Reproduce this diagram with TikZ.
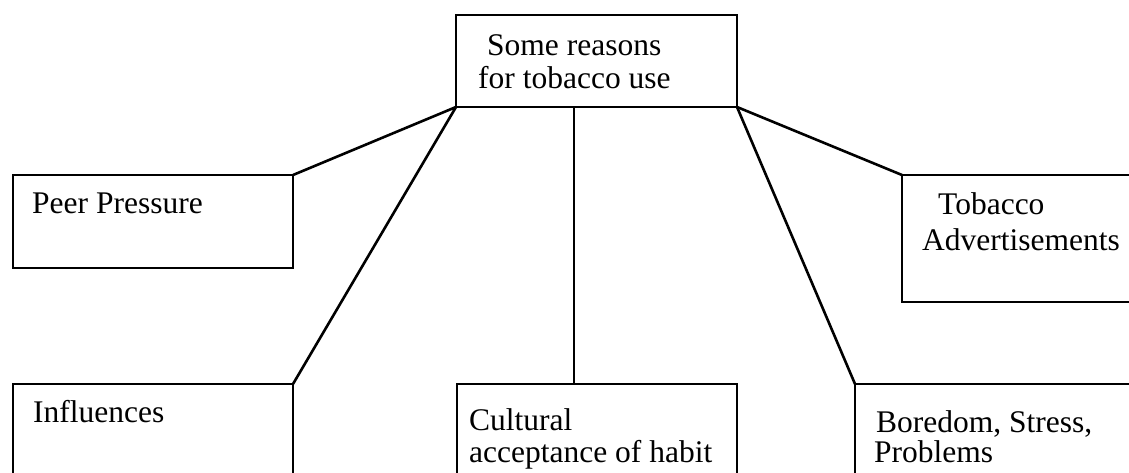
\documentclass[tikz,border=0pt]{standalone}
\usepackage{fontspec}
\setmainfont{Liberation Serif}
\begin{document}
\begin{tikzpicture}[x=1pt,y=-1pt,
  box/.style={draw,line width=2.4pt,rectangle,inner sep=0pt,outer sep=0pt},
  conn/.style={line width=2.6pt},
  lbl/.style={anchor=base west,inner sep=0pt,font=\fontsize{31.5}{34}\selectfont}]
\useasboundingbox (0,0) rectangle (1129,472);
\clip (0,0) rectangle (1129,472);
\node[box,minimum width=281pt,minimum height=92pt] (top) at (596.5,61) {};
\node[box,minimum width=280pt,minimum height=93pt] (peer) at (153,221.5) {};
\node[box,minimum width=240pt,minimum height=127pt] (tob) at (1022,238.5) {};
\node[box,minimum width=280pt,minimum height=106pt] (infl) at (153,437) {};
\node[box,minimum width=280pt,minimum height=106pt] (cult) at (597,437) {};
\node[box,minimum width=290pt,minimum height=106pt] (bore) at (1000,437) {};
\node[lbl] (t1) at (487,55) {Some reasons};
\node[lbl] (t2) at (478,88) {for tobacco use};
\node[lbl] (t3) at (32,213) {Peer Pressure};
\node[lbl] (t4) at (938,214) {Tobacco};
\node[lbl] (t5) at (922,250) {Advertisements};
\node[lbl] (t6) at (33,422) {Influences};
\node[lbl] (t7) at (469,430) {Cultural};
\node[lbl] (t8) at (469,462) {acceptance of habit};
\node[lbl] (t9) at (876,432) {Boredom, Stress,};
\node[lbl] (t10) at (874,462) {Problems};
\coordinate (mid) at (574,107);
\draw[conn] (top.south west) -- (peer.north east);
\draw[conn] (top.south west) -- (infl.north east);
\draw[conn] (mid) -- (mid |- cult.north);
\draw[conn] (top.south east) -- (tob.north west);
\draw[conn] (top.south east) -- (bore.north west);
\end{tikzpicture}
\end{document}
